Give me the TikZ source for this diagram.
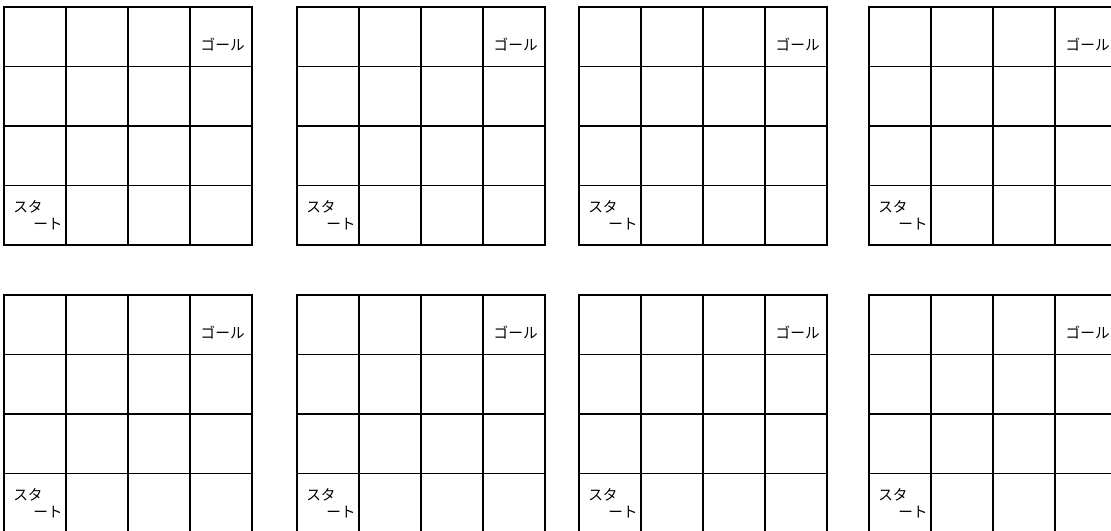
\documentclass[tikz,border=0pt]{standalone}
\usepackage{fontspec}
\newfontfamily\jpfont{Noto Sans CJK JP}
\usetikzlibrary{positioning}
\tikzset{
  gridline/.style={line width=1.3pt, line cap=round},
  cellnote/.style={inner sep=0pt, font=\jpfont\fontsize{11}{13}\selectfont}
}
\begin{document}
\begin{tikzpicture}[x=0.75pt,y=-0.75pt]

% --- cornice della pagina
\useasboundingbox (0,0) rectangle (1111,531);
\clip (0,0) rectangle (1111,531);

% ================== otto griglie 4x4 ==================
\foreach \ox/\oy/\n in {4/7/a,297/7/b,579/7/c,869/7/d,4/295/e,297/295/f,579/295/g,869/295/h}{
  \begin{scope}[shift={(\ox,\oy)}]
    % bordo e linee interne
    \draw[gridline] (0,0) rectangle (248,238);
    \foreach \i in {1,2,3}{
      \draw[gridline] (62*\i,0) -- (62*\i,238);
      \draw[gridline] (0,59.5*\i) -- (248,59.5*\i);
    }
    % testi
    \node[cellnote, anchor=east] (goal-\n) at (241,38) {ゴール};
    \node[cellnote, anchor=west] (start-\n) at (9,200) {スタ};
    \node[cellnote, anchor=west] (startb-\n) at (29,217) {ート};
  \end{scope}
}

\end{tikzpicture}
\end{document}
